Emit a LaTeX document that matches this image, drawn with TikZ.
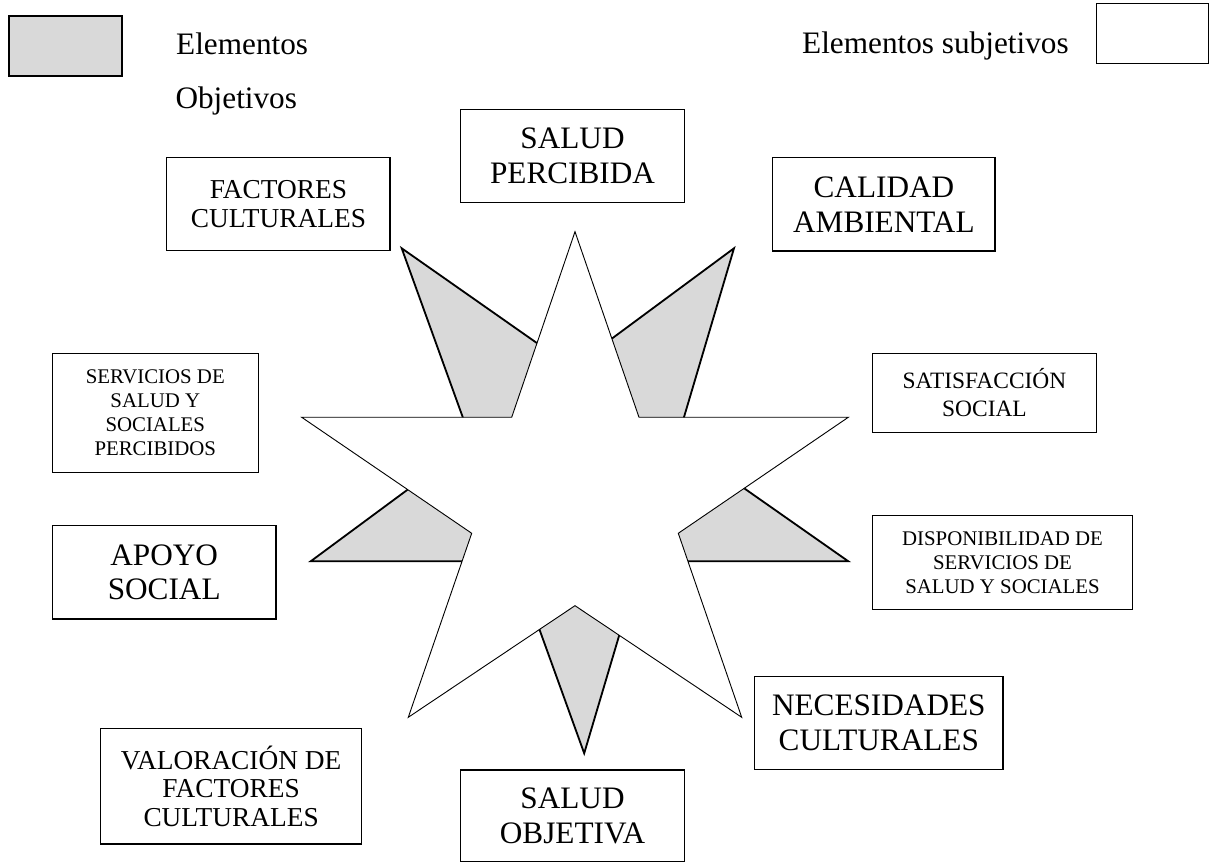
\documentclass[tikz,border=0pt]{standalone}
\usepackage{fontspec}
\setmainfont{Liberation Serif}
\definecolor{gris}{gray}{0.85}
\begin{document}
\begin{tikzpicture}[x=0.135mm,y=-0.135mm,
    caja/.style 2 args={draw,line width=0.55pt,align=center,inner sep=0pt,
        minimum width=#1*0.135mm,minimum height=#2*0.135mm},
    leyenda/.style={anchor=base west,inner sep=0pt,font=\fontsize{12}{14}\selectfont},
    objetivo/.style={fill=gris,draw=black,line width=0.7pt},
    subjetivo/.style={fill=white,draw=black,line width=0.35pt}]
\useasboundingbox (0,0) rectangle (1213,863);

\node[caja={113}{60.3},fill=gris,line width=0.8pt] (leyObj) at (65.8,45.9) {};
\node[leyenda] (txtElem) at (175.7,54.3) {Elementos};
\node[leyenda] (txtObj) at (175,108.3) {Objetivos};
\node[leyenda] (txtSubj) at (801.7,53.3) {Elementos subjetivos};
\node[caja={111.6}{60},line width=0.4pt] (leySubj) at (1152.5,33.3) {};

% estrella gris debajo, la blanca tapa su centro
\foreach \n/\x/\y in {UL/401.7/248.3,UR/734/248.3,R/848.3/561.3,B/584.2/753.3,L/310.7/561.3}
    \coordinate (o\n) at (\x,\y);
\filldraw[objetivo] (oUL) -- (intersection of oUL--oR and oUR--oL)
    -- (oUR) -- (intersection of oUR--oB and oR--oUL)
    -- (oR) -- (intersection of oR--oL and oB--oUR)
    -- (oB) -- (intersection of oB--oUL and oL--oR)
    -- (oL) -- (intersection of oL--oUR and oUL--oB) -- cycle;

\foreach \n/\x/\y in {1/575/231.7,2/639/417.3,3/848.3/417.3,4/678.3/533.3,5/741.7/717.3,
                      6/575/605.7,7/408.3/717.3,8/471.7/533.3,9/301.7/417.3,10/511.7/417.3}
    \coordinate (s\n) at (\x,\y);
\filldraw[subjetivo] (s1) \foreach \i in {2,...,10} {-- (s\i)} -- cycle;

\node[caja={223.6}{93.4},font=\fontsize{12}{13.4}\selectfont] (salPerc) at (572.5,156) {SALUD\\PERCIBIDA};
\node[caja={223.3}{93.4},font=\fontsize{10.5}{11.3}\selectfont] (factCult) at (278.4,204) {FACTORES\\CULTURALES};
\node[caja={222.3}{93.3},font=\fontsize{12}{13.4}\selectfont] (calAmb) at (883.9,204.4) {CALIDAD\\AMBIENTAL};
\node[caja={206}{119},font=\fontsize{8}{9.2}\selectfont] (servPerc) at (155.3,412.8) {SERVICIOS DE\\SALUD Y\\SOCIALES\\PERCIBIDOS};
\node[caja={224.4}{79},font=\fontsize{9}{10.9}\selectfont] (satSoc) at (984.5,392.8) {SATISFACCIÓN\\SOCIAL};
\node[caja={223.7}{93.3},font=\fontsize{12}{13.2}\selectfont] (apoySoc) at (164.2,572.4) {APOYO\\SOCIAL};
\node[caja={260.4}{93.6},font=\fontsize{8}{9.2}\selectfont] (dispServ) at (1002.5,562.5) {DISPONIBILIDAD DE\\SERVICIOS DE\\SALUD Y SOCIALES};
\node[caja={261}{115.7},font=\fontsize{10.5}{11}\selectfont] (valFact) at (231.1,786.2) {VALORACIÓN DE\\FACTORES\\CULTURALES};
\node[caja={223.6}{91.7},font=\fontsize{12}{13.4}\selectfont] (salObj) at (572.5,815.9) {SALUD\\OBJETIVA};
\node[caja={248.5}{92.6},font=\fontsize{12}{13.4}\selectfont] (necCult) at (878.8,723) {NECESIDADES\\CULTURALES};
\end{tikzpicture}
\end{document}
